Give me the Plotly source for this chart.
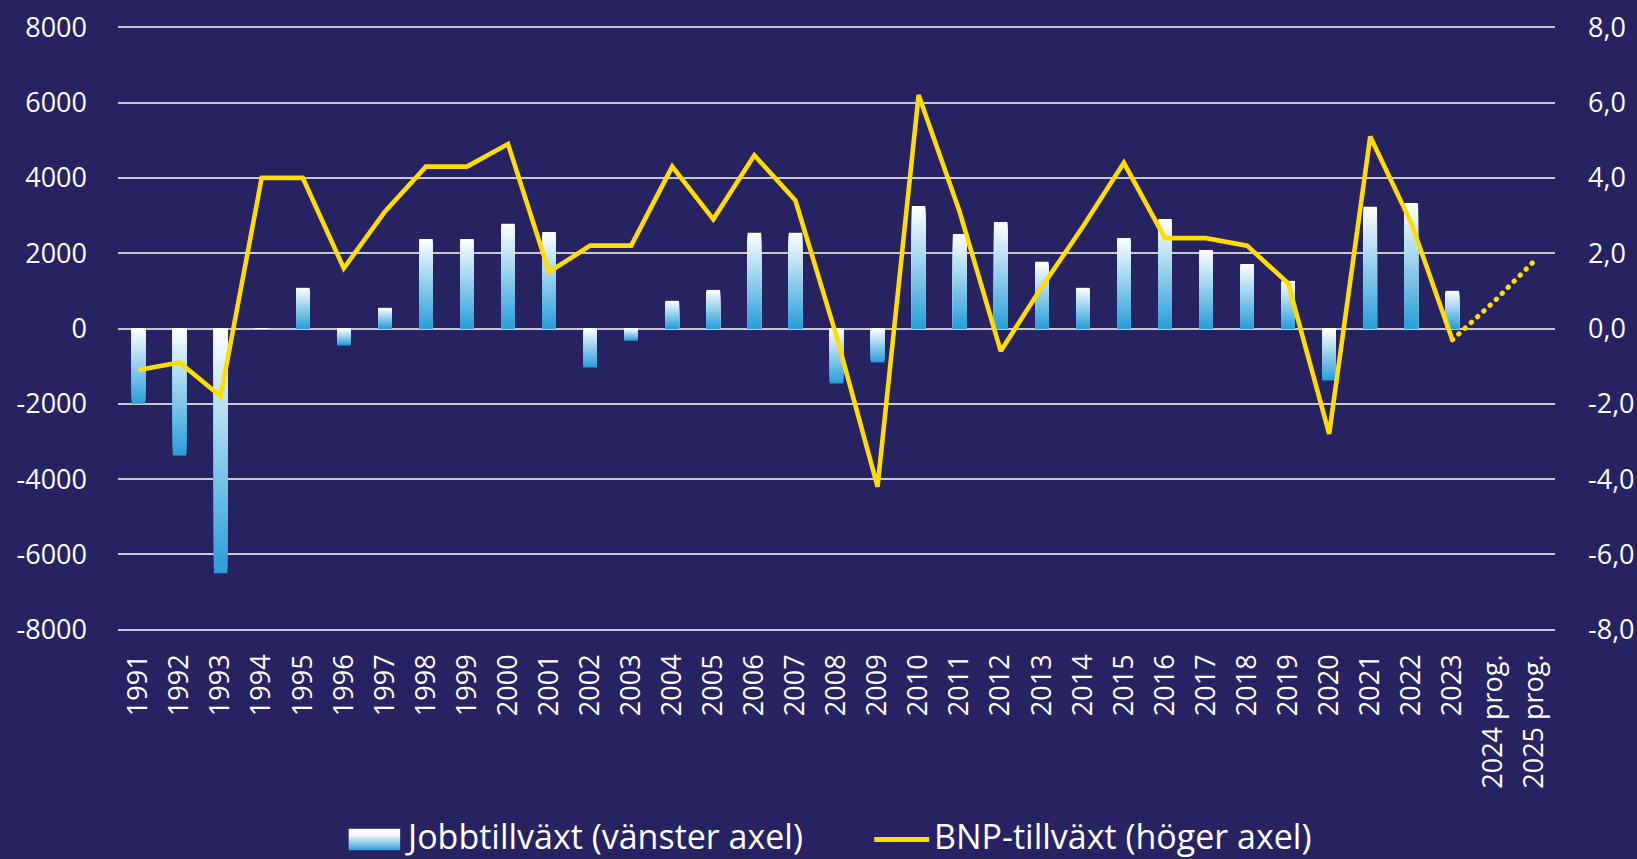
import base64
import plotly.graph_objects as go

# ---------------- data ----------------
categories = ["1991", "1992", "1993", "1994", "1995", "1996", "1997", "1998", "1999", "2000",
              "2001", "2002", "2003", "2004", "2005", "2006", "2007", "2008", "2009", "2010",
              "2011", "2012", "2013", "2014", "2015", "2016", "2017", "2018", "2019", "2020",
              "2021", "2022", "2023", "2024 prog.", "2025 prog."]

# Jobbtillväxt (left axis), 1991-2023
jobs = [-2000, -3370, -6500, -30, 1080, -450, 550, 2380, 2380, 2780,
        2565, -1035, -320, 735, 1025, 2540, 2540, -1460, -900, 3255,
        2510, 2830, 1770, 1080, 2405, 2910, 2085, 1715, 1265, -1380,
        3230, 3335, 1000]

# BNP-tillväxt (right axis), 1991-2023 outcome
gdp = [-1.1, -0.9, -1.8, 4.0, 4.0, 1.6, 3.1, 4.3, 4.3, 4.9,
       1.5, 2.2, 2.2, 4.3, 2.9, 4.6, 3.4, -0.2, -4.2, 6.2,
       3.1, -0.6, 1.1, 2.7, 4.4, 2.4, 2.4, 2.2, 1.2, -2.8,
       5.1, 2.8, -0.3]
# BNP forecast 2024, 2025
gdp_prog = [0.7, 1.8]

left_tickvals = [8000, 6000, 4000, 2000, 0, -2000, -4000, -6000, -8000]
left_ticktext = ["8000", "6000", "4000", "2000", "0", "-2000", "-4000", "-6000", "-8000"]
right_tickvals = [8, 6, 4, 2, 0, -2, -4, -6, -8]
right_ticktext = ["8,0", "6,0", "4,0", "2,0", "0,0", "-2,0", "-4,0", "-6,0", "-8,0"]

legend_bar = "Jobbtillväxt (vänster axel)"
legend_line = "BNP-tillväxt (höger axel)"

# ---------------- style ----------------
BG = "#272262"
GRID = "#C8C8CE"
YELLOW = "#FFDD00"
WHITE = (255, 255, 255)
BLUE = (40, 158, 218)
TICKFONT = dict(family="Source Sans Pro, Open Sans, Noto Sans, sans-serif", size=27, color="white")
LEGFONT = dict(family="Source Sans Pro, Open Sans, sans-serif", size=34, color="white")

W, H = 1637, 859
# axis range padded slightly so the outer gridlines (±8000) are drawn
PAD = 60
ML, MR = 117.5, 82
MT = 27 - 603.3 * PAD / 16000
MB = 229 - 603.3 * PAD / 16000
PW = W - ML - MR
PH = H - MT - MB


def mix(t):
    """t=0 -> white, t=1 -> blue"""
    return "rgb(%d,%d,%d)" % tuple(round(WHITE[i] + (BLUE[i] - WHITE[i]) * t) for i in range(3))


fig = go.Figure()

# gradient bars: nested overlaid bars, each shorter layer drawn on top of the longer one
N = 48
bar_x = categories[:len(jobs)]
for k in range(N):
    frac = (N - k) / N
    yk = [v * frac for v in jobs]
    cols = []
    for v in jobs:
        if v >= 0:
            t = (k + 0.5) / N          # top strip white, toward zero blue
        else:
            t = (N - k - 0.5) / N      # bottom (far) strip blue, toward zero white
        cols.append(mix(t))
    fig.add_trace(go.Bar(x=bar_x, y=yk, width=0.33,
                         marker=dict(color=cols, line=dict(width=0)),
                         showlegend=False, hoverinfo="skip", yaxis="y"))

fig.add_trace(go.Scatter(x=categories[:len(gdp)], y=gdp, mode="lines",
                         line=dict(color=YELLOW, width=4.6), yaxis="y2",
                         showlegend=False))
fig.add_trace(go.Scatter(x=categories[len(gdp) - 1:], y=[gdp[-1]] + gdp_prog, mode="lines",
                         line=dict(color=YELLOW, width=5, dash="0.5px,8px"), yaxis="y2",
                         showlegend=False))

# ---------------- manual legend ----------------
def px_to_paper_x(px):
    return (px - ML) / PW


def px_to_paper_y(py):
    return (H - MB - py) / PH


svg = ('<svg xmlns="http://www.w3.org/2000/svg" width="52" height="22">'
       '<defs><linearGradient id="g" x1="0" y1="0" x2="0" y2="1">'
       '<stop offset="0" stop-color="#ffffff"/><stop offset="0.3" stop-color="#f4f8fc"/>'
       '<stop offset="1" stop-color="rgb(40,158,218)"/></linearGradient></defs>'
       '<rect width="52" height="22" fill="url(#g)"/></svg>')
src = "data:image/svg+xml;base64," + base64.b64encode(svg.encode()).decode()

leg_y = 840
fig.add_layout_image(dict(source=src, xref="paper", yref="paper",
                          x=px_to_paper_x(348), y=px_to_paper_y(829),
                          sizex=52 / PW, sizey=22 / PH, sizing="stretch",
                          xanchor="left", yanchor="top", layer="above"))
fig.add_shape(type="line", xref="paper", yref="paper",
              x0=px_to_paper_x(874), x1=px_to_paper_x(929),
              y0=px_to_paper_y(leg_y), y1=px_to_paper_y(leg_y),
              line=dict(color=YELLOW, width=5))
fig.add_annotation(text=legend_bar, xref="paper", yref="paper",
                   x=px_to_paper_x(403), y=px_to_paper_y(836),
                   xanchor="left", yanchor="middle", showarrow=False, font=LEGFONT)
fig.add_annotation(text=legend_line, xref="paper", yref="paper",
                   x=px_to_paper_x(932), y=px_to_paper_y(836),
                   xanchor="left", yanchor="middle", showarrow=False, font=LEGFONT)

fig.update_layout(
    width=W, height=H,
    margin=dict(l=ML, r=MR, t=MT, b=MB, pad=0, autoexpand=False),
    paper_bgcolor=BG, plot_bgcolor=BG,
    barmode="overlay",
    showlegend=False,
    xaxis=dict(type="category", categoryorder="array", categoryarray=categories,
               range=[-0.5, len(categories) - 0.5], fixedrange=True, automargin=False,
               tickangle=-90, tickfont=TICKFONT, showgrid=False, zeroline=False,
               showline=False, ticks="", ticklabelstandoff=16),
    yaxis=dict(range=[-8000 - PAD, 8000 + PAD], tickvals=left_tickvals, ticktext=left_ticktext,
               tickfont=TICKFONT, showgrid=True, gridcolor=GRID, gridwidth=1.8,
               zeroline=False, showline=False, ticks="", ticklabelstandoff=30,
               automargin=False),
    yaxis2=dict(range=[-8 - PAD / 1000, 8 + PAD / 1000], tickvals=right_tickvals,
                ticktext=right_ticktext,
                overlaying="y", side="right", tickfont=TICKFONT, showgrid=False,
                zeroline=False, showline=False, ticks="", ticklabelstandoff=32,
                automargin=False),
)

post = """
document.body.style.margin='0';
document.body.style.overflow='hidden';
var gd=document.getElementById('{plot_id}');
function roundDots(){
  var tr=gd.querySelectorAll('.scatterlayer .trace');
  if(tr.length){var p=tr[tr.length-1].querySelector('path.js-line'); if(p){p.style.strokeLinecap='round';}}
}
roundDots();
gd.on('plotly_afterplot', roundDots);
"""

fig.write_html("out.html", config={"displayModeBar": False}, post_script=post)
